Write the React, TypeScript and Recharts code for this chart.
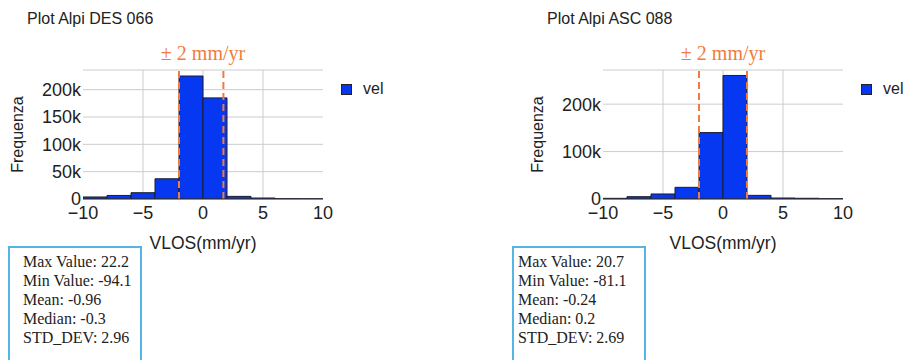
import React from "react";
import {
  BarChart,
  Bar,
  XAxis,
  YAxis,
  CartesianGrid,
  ReferenceLine,
  Legend,
  Label,
} from "recharts";

// bin starts (each bin is 2 mm/yr wide)
const BIN_STARTS = [-10, -8, -6, -4, -2, 0, 2, 4, 6, 8];
const BIN_WIDTH = 2;
const X_TICKS = [-10, -5, 0, 5, 10];
const X_GRID = [-5, 0, 5];

const DES_COUNTS = [3700, 6500, 11500, 37000, 225000, 185000, 4800, 1800, 400, 200];
const DES_Y_TICKS = [0, 50000, 100000, 150000, 200000];
const DES_Y_MAX = 236000;
const DES_LIMITS = [-2, 1.7];
const DES_STATS = ["Max Value: 22.2", "Min Value: -94.1", "Mean: -0.96", "Median: -0.3", "STD_DEV: 2.96"];

const ASC_COUNTS = [1400, 4900, 10600, 24600, 140000, 260500, 7700, 2100, 1500, 500];
const ASC_Y_TICKS = [0, 100000, 200000];
const ASC_Y_MAX = 272000;
const ASC_LIMITS = [-2, 2];
const ASC_STATS = ["Max Value: 20.7", "Min Value: -81.1", "Mean: -0.24", "Median: 0.2", "STD_DEV: 2.69"];

const BLUE = "#0638f2";
const ORANGE = "#ef7b3e";
const SANS = "Arial, 'Liberation Sans', sans-serif";
const SERIF = "'Times New Roman', 'Liberation Serif', serif";

const fmtX = (v: number) => String(v).replace("-", "\u2212");
const fmtY = (v: number) => (v === 0 ? "0" : `${v / 1000}k`);

interface HistProps {
  left: number;
  title: string;
  counts: number[];
  yTicks: number[];
  yMax: number;
  limits: number[];
  stats: string[];
  boxLeft: number;
  boxPad: number;
}

function Histogram({ left, title, counts, yTicks, yMax, limits, stats, boxLeft, boxPad }: HistProps) {
  const data = BIN_STARTS.map((b, i) => ({ mid: b + BIN_WIDTH / 2, count: counts[i] }));

  return (
    <>
      <div
        style={{
          position: "absolute",
          left: left + 27,
          top: 10,
          fontFamily: SANS,
          fontSize: 16,
          color: "#222",
          whiteSpace: "nowrap",
        }}
      >
        {title}
      </div>
      <div
        style={{
          position: "absolute",
          left: left + 83,
          width: 240,
          top: 42,
          textAlign: "center",
          fontFamily: SERIF,
          fontSize: 20,
          color: ORANGE,
          whiteSpace: "nowrap",
        }}
      >
        ± 2 mm/yr
      </div>
      <div style={{ position: "absolute", left, top: 0 }}>
        <BarChart
          width={400}
          height={260}
          data={data}
          margin={{ top: 70, right: 77, bottom: 31, left: 8 }}
          barCategoryGap={0}
          barGap={0}
        >
          <CartesianGrid stroke="#cccccc" verticalValues={X_GRID} />
          <XAxis
            dataKey="mid"
            type="number"
            domain={[-10, 10]}
            ticks={X_TICKS}
            allowDataOverflow
            tickFormatter={fmtX}
            tickLine={false}
            tickSize={0}
            tickMargin={7}
            axisLine={{ stroke: "#333333" }}
            height={30}
            tick={{ fill: "#222", fontSize: 18, fontFamily: SANS }}
          >
            <Label
              value="VLOS(mm/yr)"
              position="bottom"
              offset={8}
              style={{ fill: "#222", fontSize: 17.5, fontFamily: SANS }}
            />
          </XAxis>
          <YAxis
            domain={[0, yMax]}
            ticks={yTicks}
            allowDataOverflow
            tickFormatter={fmtY}
            axisLine={false}
            tickLine={false}
            tickSize={0}
            tickMargin={2}
            width={75}
            tick={{ fill: "#222", fontSize: 18, fontFamily: SANS }}
          >
            <Label
              value="Frequenza"
              angle={-90}
              position="insideLeft"
              offset={9}
              style={{ fill: "#222", fontSize: 16, fontFamily: SANS, textAnchor: "middle" }}
            />
          </YAxis>
          <Bar
            dataKey="count"
            name="vel"
            fill={BLUE}
            stroke="#1c1c2c"
            strokeWidth={1}
            isAnimationActive={false}
          />
          {limits.map((x) => (
            <ReferenceLine
              key={x}
              x={x}
              stroke={ORANGE}
              strokeWidth={2}
              strokeDasharray="7 4"
            />
          ))}
          <Legend
            layout="vertical"
            align="center"
            verticalAlign="middle"
            wrapperStyle={{ left: 341, top: 80, width: 60, height: 20 }}
            content={() => (
              <div style={{ display: "flex", alignItems: "center", fontFamily: SANS, fontSize: 16, color: "#222" }}>
                <span
                  style={{
                    display: "inline-block",
                    width: 9,
                    height: 9,
                    background: BLUE,
                    border: "1px solid #222",
                  }}
                />
                <span style={{ marginLeft: 11 }}>vel</span>
              </div>
            )}
          />
        </BarChart>
      </div>
      <div
        style={{
          position: "absolute",
          left: boxLeft,
          top: 246,
          width: 134,
          height: 130,
          boxSizing: "border-box",
          border: "2px solid #56b4e6",
          padding: `4px 0 0 ${boxPad}px`,
          fontFamily: SERIF,
          fontSize: 16,
          lineHeight: "19px",
          color: "#222",
          whiteSpace: "nowrap",
        }}
      >
        {stats.map((s) => (
          <div key={s}>{s}</div>
        ))}
      </div>
    </>
  );
}

export default function App() {
  return (
    <div
      style={{
        position: "absolute",
        left: 0,
        top: 0,
        width: 905,
        height: 360,
        background: "#fff",
        overflow: "hidden",
      }}
    >
      <Histogram
        left={0}
        title="Plot Alpi DES 066"
        counts={DES_COUNTS}
        yTicks={DES_Y_TICKS}
        yMax={DES_Y_MAX}
        limits={DES_LIMITS}
        stats={DES_STATS}
        boxLeft={8}
        boxPad={13}
      />
      <Histogram
        left={520}
        title="Plot Alpi ASC 088"
        counts={ASC_COUNTS}
        yTicks={ASC_Y_TICKS}
        yMax={ASC_Y_MAX}
        limits={ASC_LIMITS}
        stats={ASC_STATS}
        boxLeft={512}
        boxPad={4}
      />
    </div>
  );
}
